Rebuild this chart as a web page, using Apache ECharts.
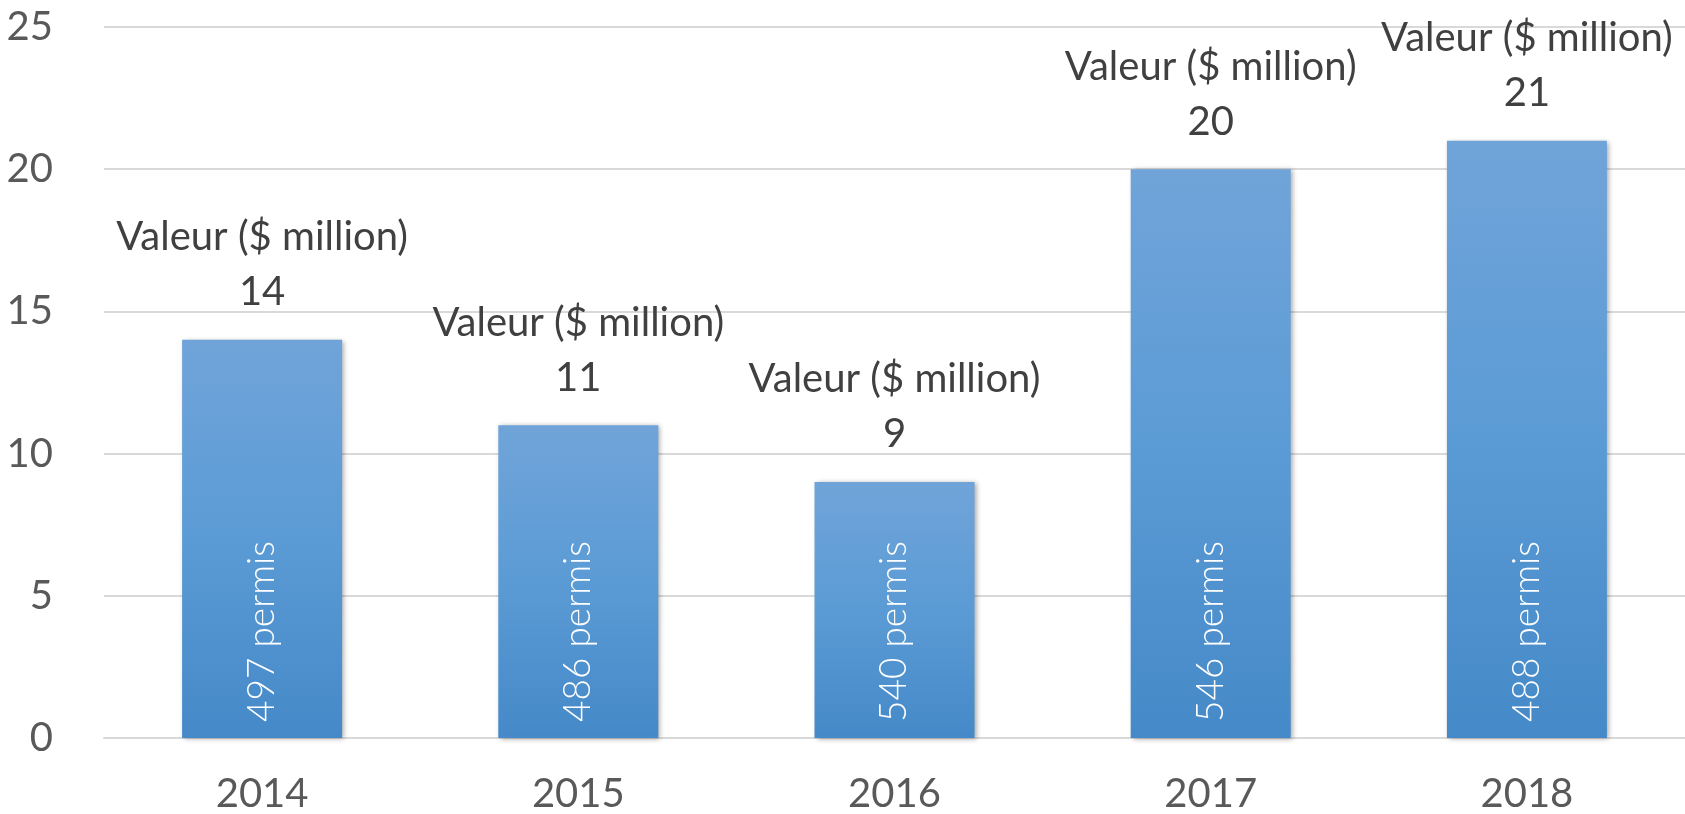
<!DOCTYPE html>
<html>
<head>
<meta charset="utf-8">
<script src="https://cdn.jsdelivr.net/npm/echarts@6/dist/echarts.min.js"></script>
<style>
  html, body { margin: 0; padding: 0; background: #ffffff; }
  #chart { width: 1685px; height: 814px; }
</style>
</head>
<body>
<div id="chart"></div>
<script>
const categories = ['2014', '2015', '2016', '2017', '2018'];
const valeurs = [14, 11, 9, 20, 21];
const permis = [497, 486, 540, 546, 488];
const valueLabel = 'Valeur ($ million)';
const permisSuffix = ' permis';

const chart = echarts.init(document.getElementById('chart'), null, { renderer: 'canvas' });
const fontFamily = 'Lato, "Open Sans", sans-serif';

chart.setOption({
  animation: false,
  backgroundColor: '#ffffff',
  grid: { left: 104, right: -8, top: 27, bottom: 71, containLabel: false },
  xAxis: {
    type: 'category',
    data: categories,
    axisLine: { show: true, lineStyle: { color: '#d9d9d9', width: 2 } },
    axisTick: { show: false },
    axisLabel: { color: '#595959', fontSize: 40, fontFamily: fontFamily, margin: 36 }
  },
  yAxis: {
    type: 'value',
    min: 0, max: 25, interval: 5,
    axisLine: { show: false },
    axisTick: { show: false },
    splitLine: { lineStyle: { color: '#d9d9d9', width: 2 } },
    axisLabel: { color: '#595959', fontSize: 40, fontFamily: fontFamily, margin: 51 }
  },
  series: [
    {
      type: 'bar',
      data: valeurs,
      barWidth: 160,
      itemStyle: {
        color: new echarts.graphic.LinearGradient(0, 0, 0, 1, [
          { offset: 0, color: '#70a4d9' },
          { offset: 0.5, color: '#5b9bd5' },
          { offset: 1, color: '#4589c8' }
        ]),
        shadowColor: 'rgba(0,0,0,0.35)',
        shadowBlur: 5,
        shadowOffsetX: 2,
        shadowOffsetY: 1
      },
      label: {
        show: true,
        position: 'top',
        distance: 20,
        color: '#404040',
        fontFamily: fontFamily,
        fontSize: 40,
        lineHeight: 55,
        align: 'center',
        formatter: p => valueLabel + '\n' + p.value
      }
    },
    {
      type: 'bar',
      data: valeurs,
      barWidth: 160,
      barGap: '-100%',
      silent: true,
      itemStyle: { color: 'rgba(0,0,0,0)' },
      label: {
        show: true,
        position: 'insideBottom',
        rotate: 90,
        align: 'left',
        verticalAlign: 'middle',
        distance: 16,
        color: '#ffffff',
        fontFamily: fontFamily,
        fontWeight: 300,
        fontSize: 37,
        formatter: p => permis[p.dataIndex] + permisSuffix
      }
    }
  ]
});
</script>
</body>
</html>
